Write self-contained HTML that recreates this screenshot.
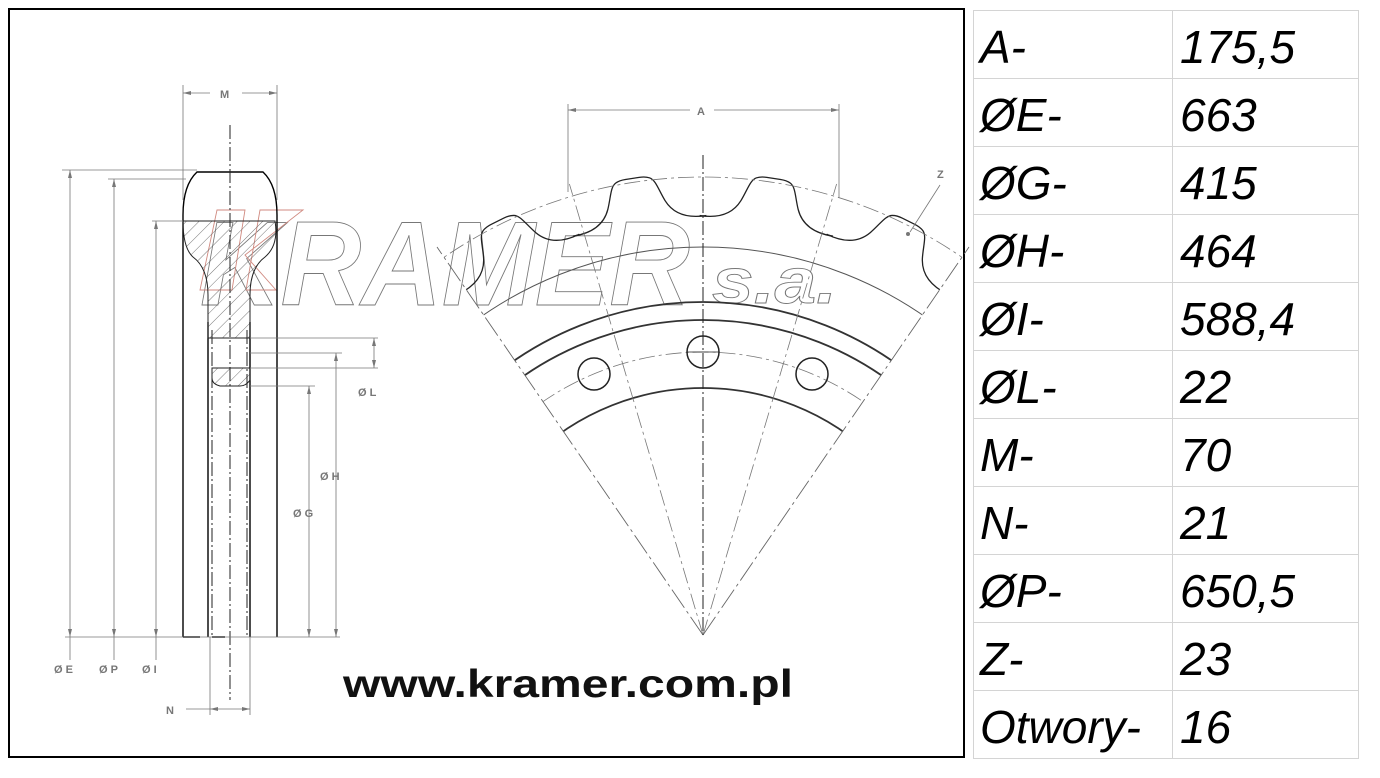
<!DOCTYPE html>
<html><head><meta charset="utf-8"><style>
html,body{margin:0;padding:0;background:#fff;width:1380px;height:778px;overflow:hidden}
svg{display:block}
</style></head><body>
<svg width="1380" height="778" viewBox="0 0 1380 778" xmlns="http://www.w3.org/2000/svg">
<defs>
<pattern id="hatch" patternUnits="userSpaceOnUse" width="9" height="9" patternTransform="rotate(45)">
<line x1="0" y1="0" x2="0" y2="9" stroke="#555" stroke-width="0.8"/>
</pattern>
<clipPath id="sector"><path d="M703,635 L437,247 A470,470 0 0 1 969,247 Z"/></clipPath>
<path id="tp" d="M635.5,221 C655,221 668,214 674,200 C679,188 680,178 686,175 Q690,173 696,173 L710,173 Q716,173 720,175 C726,178 727,188 732,200 C738,214 751,221 770.5,221"/>
</defs>
<rect x="9" y="9" width="955" height="748" fill="none" stroke="#000" stroke-width="2"/>

<!-- table -->
<g stroke="#d4d4d4" stroke-width="1" fill="none">
<rect x="973.5" y="10.5" width="385" height="748"/>
<line x1="1172.5" y1="10" x2="1172.5" y2="758"/>
<line x1="973" y1="78.5" x2="1358" y2="78.5"/><line x1="973" y1="146.5" x2="1358" y2="146.5"/>
<line x1="973" y1="214.5" x2="1358" y2="214.5"/><line x1="973" y1="282.5" x2="1358" y2="282.5"/>
<line x1="973" y1="350.5" x2="1358" y2="350.5"/><line x1="973" y1="418.5" x2="1358" y2="418.5"/>
<line x1="973" y1="486.5" x2="1358" y2="486.5"/><line x1="973" y1="554.5" x2="1358" y2="554.5"/>
<line x1="973" y1="622.5" x2="1358" y2="622.5"/><line x1="973" y1="690.5" x2="1358" y2="690.5"/>
</g>
<g font-family="Liberation Sans, sans-serif" font-style="italic" font-size="46" fill="#000">
<text x="980" y="63">A-</text><text x="1180" y="63">175,5</text>
<text x="980" y="131">ØE-</text><text x="1180" y="131">663</text>
<text x="980" y="199">ØG-</text><text x="1180" y="199">415</text>
<text x="980" y="267">ØH-</text><text x="1180" y="267">464</text>
<text x="980" y="335">ØI-</text><text x="1180" y="335">588,4</text>
<text x="980" y="403">ØL-</text><text x="1180" y="403">22</text>
<text x="980" y="471">M-</text><text x="1180" y="471">70</text>
<text x="980" y="539">N-</text><text x="1180" y="539">21</text>
<text x="980" y="607">ØP-</text><text x="1180" y="607">650,5</text>
<text x="980" y="675">Z-</text><text x="1180" y="675">23</text>
<text x="980" y="743">Otwory-</text><text x="1180" y="743">16</text>
</g>

<!-- watermark -->
<g font-family="Liberation Sans, sans-serif" font-weight="bold" font-style="italic" fill="none" stroke="#777" stroke-width="0.9">
<text x="200" y="305" font-size="120" textLength="490" lengthAdjust="spacingAndGlyphs">KRAMER</text>
<text x="712" y="303" font-size="64" textLength="125" lengthAdjust="spacingAndGlyphs">s.a.</text>
</g>
<path d="M217,210 L245,210 L232,290 L200,290 Z M260,210 L303,210 L245,255 L276,290 L246,290 Z" fill="none" stroke="#d08a80" stroke-width="0.9"/>

<!-- left view -->
<g fill="none" stroke="#000" stroke-width="1.4">
<path d="M183,637 L183,215 Q183,185 197,172 L263,172 Q277,185 277,215 L277,637"/>
<line x1="208" y1="322" x2="208" y2="637"/>
<line x1="250" y1="322" x2="250" y2="637"/>
<path d="M183,637 L200,637 M212,637 L225,637"/>
</g>
<path d="M183,221 L275,221 Q279,245 265,257 Q250,268 250,295 L250,338 L208,338 L208,295 Q208,268 193,257 Q183,248 183,221 Z" fill="url(#hatch)" stroke="#222" stroke-width="1"/>
<path d="M212,368 L250,368 L250,380 Q246,386 240,386 L220,386 Q212,384 212,378 Z" fill="url(#hatch)" stroke="#222" stroke-width="1"/>
<g stroke="#222" stroke-width="1" stroke-dasharray="14,3,2,3" fill="none">
<line x1="230" y1="125" x2="230" y2="700"/>
<line x1="212" y1="330" x2="212" y2="637"/>
<line x1="247" y1="330" x2="247" y2="637"/>
</g>
<g stroke="#777" stroke-width="0.8" fill="none">
<line x1="183" y1="85" x2="183" y2="200"/><line x1="277" y1="85" x2="277" y2="200"/>
<line x1="183" y1="93" x2="210" y2="93"/><line x1="242" y1="93" x2="277" y2="93"/>
<line x1="62" y1="170" x2="197" y2="170"/>
<line x1="108" y1="179" x2="186" y2="179"/>
<line x1="152" y1="221" x2="183" y2="221"/>
<line x1="70" y1="170" x2="70" y2="660"/>
<line x1="114" y1="179" x2="114" y2="660"/>
<line x1="156" y1="221" x2="156" y2="660"/>
<line x1="65" y1="637" x2="340" y2="637"/>
<line x1="250" y1="338" x2="378" y2="338"/>
<line x1="250" y1="353" x2="342" y2="353"/>
<line x1="250" y1="368" x2="378" y2="368"/>
<line x1="250" y1="386" x2="315" y2="386"/>
<line x1="374" y1="338" x2="374" y2="368"/>
<line x1="336" y1="353" x2="336" y2="637"/>
<line x1="309" y1="386" x2="309" y2="637"/>
<line x1="210" y1="637" x2="210" y2="715"/><line x1="250" y1="637" x2="250" y2="715"/>
<line x1="186" y1="709" x2="250" y2="709"/>
</g>
<g fill="#777">
<path d="M183,93 l8,-2 v4z M277,93 l-8,-2 v4z"/>
<path d="M70,170 l-2,8 h4z M114,179 l-2,8 h4z M156,221 l-2,8 h4z"/>
<path d="M70,637 l-2,-8 h4z M114,637 l-2,-8 h4z M156,637 l-2,-8 h4z M336,637 l-2,-8 h4z M309,637 l-2,-8 h4z"/>
<path d="M336,353 l-2,8 h4z M309,386 l-2,8 h4z M374,338 l-2,8 h4z M374,368 l-2,-8 h4z"/>
<path d="M210,709 l8,-2 v4z M250,709 l-8,-2 v4z"/>
</g>
<g font-family="Liberation Sans, sans-serif" font-weight="bold" font-size="11" fill="#777">
<text x="220" y="98">M</text>
<text x="54" y="673">Ø E</text><text x="99" y="673">Ø P</text><text x="142" y="673">Ø I</text>
<text x="320" y="480">Ø H</text><text x="293" y="517">Ø G</text><text x="358" y="396">Ø L</text>
<text x="166" y="714">N</text>
</g>

<!-- sector view -->
<g clip-path="url(#sector)" fill="none">
<g stroke="#222" stroke-width="1.3">
<use href="#tp" transform="rotate(-8.8 703 635)"/>
<use href="#tp" transform="rotate(8.8 703 635)"/>
<use href="#tp" transform="rotate(26.4 703 635)"/>
<use href="#tp" transform="rotate(-26.4 703 635)"/>
<use href="#tp" transform="rotate(44 703 635)"/>
<use href="#tp" transform="rotate(-44 703 635)"/>
</g>
<g stroke="#333" stroke-width="1.8">
<circle cx="703" cy="635" r="333"/>
<circle cx="703" cy="635" r="315"/>
<circle cx="703" cy="635" r="247"/>
</g>
<circle cx="703" cy="635" r="388" stroke="#555" stroke-width="1"/>
<g stroke="#777" stroke-width="0.8" stroke-dasharray="16,4,3,4">
<circle cx="703" cy="635" r="458"/>
<circle cx="703" cy="635" r="283"/>
<line x1="703" y1="635" x2="703" y2="140" transform="rotate(-16.5 703 635)"/>
<line x1="703" y1="635" x2="703" y2="140" transform="rotate(16.5 703 635)"/>
</g>
</g>
<g stroke="#666" stroke-width="0.9" stroke-dasharray="22,4,3,4" fill="none">
<line x1="703" y1="635" x2="437" y2="247"/>
<line x1="703" y1="635" x2="969" y2="247"/>
</g>
<line x1="703" y1="155" x2="703" y2="635" stroke="#222" stroke-width="1" stroke-dasharray="14,3,2,3"/>
<g fill="none" stroke="#222" stroke-width="1.5">
<circle cx="703" cy="352" r="16"/>
<circle cx="594" cy="374" r="16"/>
<circle cx="812" cy="374" r="16"/>
</g>
<g stroke="#222" stroke-width="0.8"><line x1="687" y1="352" x2="719" y2="352"/></g>
<g stroke="#777" stroke-width="0.8" fill="none">
<line x1="568" y1="104" x2="568" y2="192"/><line x1="839" y1="104" x2="839" y2="198"/>
<line x1="568" y1="110" x2="690" y2="110"/><line x1="714" y1="110" x2="839" y2="110"/>
<line x1="910" y1="232" x2="940" y2="185"/>
</g>
<path d="M568,110 l8,-2 v4z M839,110 l-8,-2 v4z" fill="#777"/>
<circle cx="908" cy="234" r="2" fill="#777"/>
<g font-family="Liberation Sans, sans-serif" font-weight="bold" font-size="11" fill="#777">
<text x="697" y="115">A</text><text x="937" y="178">Z</text>
</g>

<text x="568" y="697" text-anchor="middle" font-family="Liberation Sans, sans-serif" font-weight="bold" font-size="39" fill="#111" textLength="450" lengthAdjust="spacingAndGlyphs">www.kramer.com.pl</text>
</svg>
</body></html>
